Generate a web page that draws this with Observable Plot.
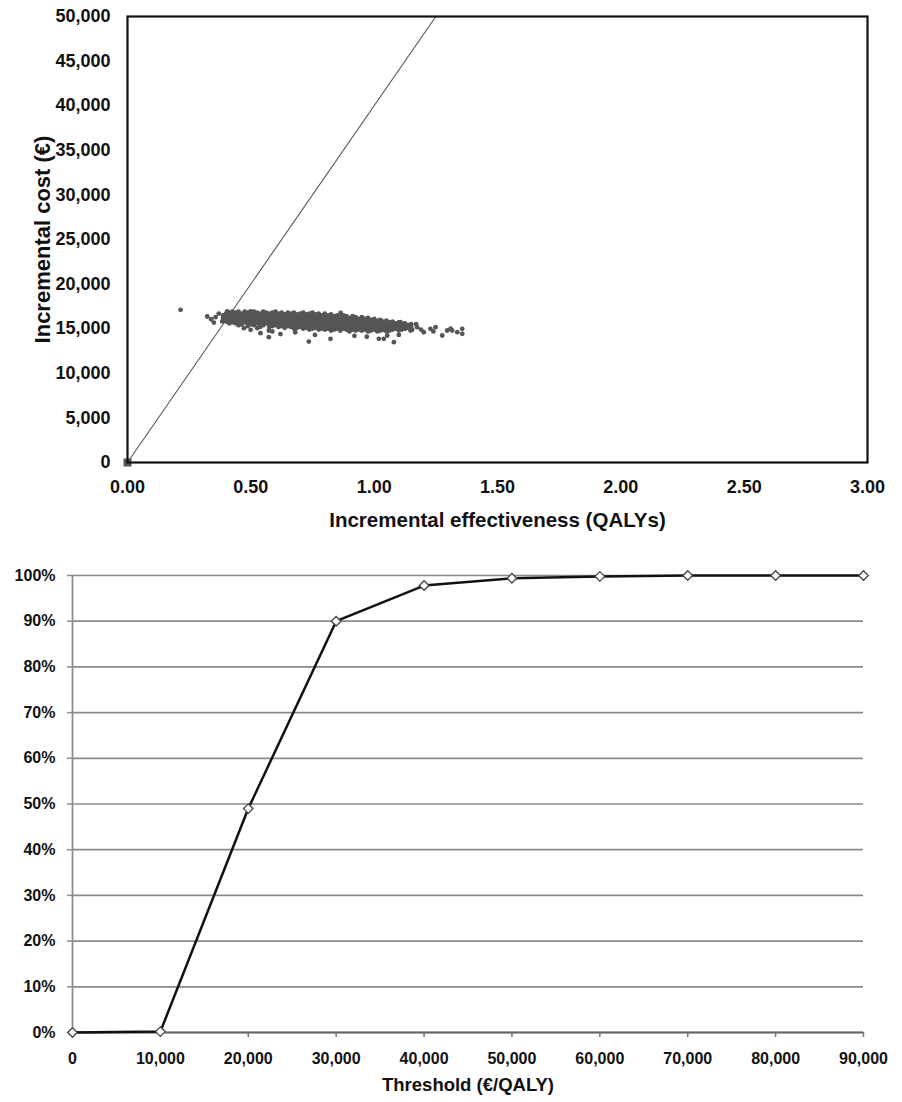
<!DOCTYPE html>
<html>
<head>
<meta charset="utf-8">
<script src="https://cdn.jsdelivr.net/npm/d3@7"></script>
<script src="https://cdn.jsdelivr.net/npm/@observablehq/plot@0.6"></script>
<style>
  html, body { margin: 0; padding: 0; background: #fff; }
  #chart svg { display: block; }
</style>
</head>
<body>
<div id="chart"></div>
<script>
// ---------- Panel A: cost-effectiveness plane ----------
const effTicks = [0, 0.5, 1.0, 1.5, 2.0, 2.5, 3.0];
const costTicks = [0, 5000, 10000, 15000, 20000, 25000, 30000, 35000, 40000, 45000, 50000];

// willingness-to-pay line (through origin)
const wtpEff = [0, 1.25];
const wtpCost = [0, 50000];

// origin marker
const originEff = [0];
const originCost = [0];

// dense core of simulations: column effectiveness and the costs read in each column
const coreEff = [0.3875, 0.400, 0.4125, 0.425, 0.4375, 0.450, 0.4625, 0.475, 0.4875, 0.500,
  0.5125, 0.525, 0.5375, 0.550, 0.5625, 0.575, 0.5875, 0.600, 0.6125, 0.625,
  0.6375, 0.650, 0.6625, 0.675, 0.6875, 0.700, 0.7125, 0.725, 0.7375, 0.750,
  0.7625, 0.775, 0.7875, 0.800, 0.8125, 0.825, 0.8375, 0.850, 0.8625, 0.875,
  0.8875, 0.900, 0.9125, 0.925, 0.9375, 0.950, 0.9625, 0.975, 0.9875, 1.000,
  1.0125, 1.025, 1.0375, 1.050, 1.0625, 1.075, 1.0875, 1.100, 1.1125, 1.125,
  1.1375, 1.150];
const coreCost = [
  [16500, 16200, 15900],
  [16700, 16400, 16100, 15800],
  [16800, 16500, 16200, 15900, 15600],
  [16900, 16600, 16300, 16000, 15700],
  [16800, 16500, 16200, 15900, 15600],
  [16900, 16600, 16300, 16000, 15700, 15400],
  [16700, 16400, 16100, 15800, 15500],
  [16900, 16600, 16300, 16000, 15700],
  [16800, 16500, 16200, 15900, 15600, 15300],
  [16700, 16400, 16100, 15800, 15500],
  [16900, 16600, 16300, 16000, 15700, 15400],
  [16800, 16500, 16200, 15900, 15600],
  [16700, 16400, 16100, 15800, 15500, 15200],
  [16900, 16600, 16300, 16000, 15700, 15400],
  [16800, 16500, 16200, 15900, 15600],
  [16700, 16400, 16100, 15800, 15500, 15200],
  [16800, 16500, 16200, 15900, 15600, 15300],
  [16900, 16600, 16300, 16000, 15700, 15400],
  [16700, 16400, 16100, 15800, 15500, 15200],
  [16800, 16500, 16200, 15900, 15600, 15300],
  [16600, 16300, 16000, 15700, 15400, 15100],
  [16800, 16500, 16200, 15900, 15600, 15300],
  [16700, 16400, 16100, 15800, 15500, 15200],
  [16800, 16500, 16200, 15900, 15600, 15300, 15000],
  [16600, 16300, 16000, 15700, 15400, 15100],
  [16700, 16400, 16100, 15800, 15500, 15200],
  [16800, 16500, 16200, 15900, 15600, 15300, 15000],
  [16600, 16300, 16000, 15700, 15400, 15100],
  [16700, 16400, 16100, 15800, 15500, 15200, 14900],
  [16800, 16500, 16200, 15900, 15600, 15300, 15000],
  [16600, 16300, 16000, 15700, 15400, 15100],
  [16700, 16400, 16100, 15800, 15500, 15200, 14900],
  [16500, 16200, 15900, 15600, 15300, 15000],
  [16700, 16400, 16100, 15800, 15500, 15200, 14900],
  [16500, 16200, 15900, 15600, 15300, 15000],
  [16600, 16300, 16000, 15700, 15400, 15100, 14800],
  [16400, 16100, 15800, 15500, 15200, 14900],
  [16500, 16200, 15900, 15600, 15300, 15000],
  [16300, 16000, 15700, 15400, 15100, 14800],
  [16500, 16200, 15900, 15600, 15300, 15000],
  [16400, 16100, 15800, 15500, 15200, 14900],
  [16200, 15900, 15600, 15300, 15000, 14700],
  [16400, 16100, 15800, 15500, 15200, 14900],
  [16300, 16000, 15700, 15400, 15100, 14800],
  [16100, 15800, 15500, 15200, 14900],
  [16300, 16000, 15700, 15400, 15100, 14800],
  [16100, 15800, 15500, 15200, 14900],
  [16200, 15900, 15600, 15300, 15000, 14700],
  [16000, 15700, 15400, 15100, 14800],
  [16100, 15800, 15500, 15200, 14900],
  [15900, 15600, 15300, 15000, 14700],
  [16000, 15700, 15400, 15100, 14800],
  [15800, 15500, 15200, 14900],
  [15900, 15600, 15300, 15000, 14700],
  [15700, 15400, 15100, 14800],
  [15800, 15500, 15200, 14900],
  [15600, 15300, 15000],
  [15700, 15400, 15100, 14800],
  [15500, 15200, 14900],
  [15600, 15300, 15000],
  [15400, 15100],
  [15500, 15200]
];

// scattered simulations around the core
const sparseEff = [0.215, 0.323, 0.339, 0.350, 0.357, 0.370, 0.384, 0.404, 0.451, 0.472,
  0.499, 0.526, 0.539, 0.587, 0.499, 0.573, 0.573, 0.735, 0.823, 0.864,
  1.019, 1.080, 1.107, 1.134, 1.147, 1.174, 1.201, 1.228, 1.249, 1.276,
  1.296, 1.316, 1.337, 1.357, 1.357, 1.053, 1.039, 1.033, 1.127, 1.154,
  0.62, 0.68, 0.76, 0.92, 0.97, 1.10, 1.17, 1.19, 1.24, 1.31];
const sparseCost = [17120, 16370, 16060, 15690, 16290, 16700, 15810, 16930, 15440, 15060,
  14870, 15060, 14500, 14690, 16930, 14800, 14050, 13560, 13870, 16780,
  13870, 13490, 15730, 15360, 14800, 15170, 14610, 14990, 15170, 14240,
  14800, 14800, 14610, 14990, 14430, 14240, 13870, 14870, 15060, 14870,
  14400, 14600, 14300, 14200, 14100, 14300, 15500, 14900, 14700, 15000];

// ---------- Panel B: acceptability curve ----------
const thresholds = [0, 10000, 20000, 30000, 40000, 50000, 60000, 70000, 80000, 90000];
const probAccept = [0, 0.002, 0.49, 0.90, 0.978, 0.994, 0.998, 1.0, 1.0, 1.0];
const probTicks = [0, 0.1, 0.2, 0.3, 0.4, 0.5, 0.6, 0.7, 0.8, 0.9, 1.0];

// ---------- build tables ----------
const cloud = coreEff.flatMap((e, i) => coreCost[i].map(c => ({eff: e, cost: c})))
  .concat(sparseEff.map((e, i) => ({eff: e, cost: sparseCost[i]})));
const wtp = wtpEff.map((e, i) => ({eff: e, cost: wtpCost[i]}));
const origin = originEff.map((e, i) => ({eff: e, cost: originCost[i]}));
const ceac = thresholds.map((t, i) => ({t, p: probAccept[i]}));

const font = "'Liberation Sans', Arial, Helvetica, sans-serif";

const planeChart = Plot.plot({
  width: 902,
  height: 540,
  marginTop: 16,
  marginLeft: 127,
  marginRight: 35,
  marginBottom: 78,
  style: {fontFamily: font, fontWeight: "bold", color: "#111", background: "#fff"},
  x: {domain: [0, 3]},
  y: {domain: [0, 50000]},
  marks: [
    Plot.axisY({ticks: costTicks, tickFormat: d3.format(","), tickSize: 0, tickPadding: 17,
      fontSize: 18, fontWeight: "bold", fontFamily: font, label: null}),
    Plot.axisY({ticks: [], label: "Incremental cost (€)", labelAnchor: "center", labelOffset: 93,
      labelArrow: "none", fontSize: 22, fontWeight: "bold", fontFamily: font, dy: 13}),
    Plot.axisX({ticks: effTicks, tickFormat: d3.format(".2f"), tickSize: 0, tickPadding: 18,
      fontSize: 18, fontWeight: "bold", fontFamily: font, label: null}),
    Plot.axisX({ticks: [], label: "Incremental effectiveness (QALYs)", labelAnchor: "center",
      labelOffset: 64, labelArrow: "none", fontSize: 20.5, fontWeight: "bold", fontFamily: font, dx: 18}),
    Plot.dot(cloud, {x: "eff", y: "cost", r: 2.4, fill: "#555", stroke: "none"}),
    Plot.line(wtp, {x: "eff", y: "cost", stroke: "#555", strokeWidth: 1.1}),
    Plot.dot(origin, {x: "eff", y: "cost", symbol: "square", r: 4.5, fill: "#555"}),
    Plot.frame({stroke: "#111", strokeWidth: 2.2})
  ]
});

const ceacChart = Plot.plot({
  width: 902,
  height: 562,
  marginTop: 35,
  marginLeft: 72,
  marginRight: 39,
  marginBottom: 70,
  style: {fontFamily: font, fontWeight: "bold", color: "#111", background: "#fff"},
  x: {domain: [0, 90000]},
  y: {domain: [0, 1]},
  marks: [
    Plot.gridY(probTicks, {stroke: "#8a8a8a", strokeOpacity: 1, strokeWidth: 1.7}),
    Plot.axisY({ticks: probTicks, tickFormat: d3.format(".0%"), tickSize: 5, tickPadding: 12,
      stroke: "#8a8a8a", strokeWidth: 1.5, fontSize: 16, fontWeight: "bold", fontFamily: font, label: null}),
    Plot.axisX({ticks: thresholds, tickFormat: d3.format(","), tickSize: 5, tickPadding: 15,
      stroke: "#777", strokeWidth: 1.5, fontSize: 16, fontWeight: "bold", fontFamily: font, label: null}),
    Plot.axisX({ticks: [], label: "Threshold (€/QALY)", labelAnchor: "center", labelOffset: 58,
      labelArrow: "none", fontSize: 18.5, fontWeight: "bold", fontFamily: font}),
    Plot.ruleX([0], {stroke: "#8a8a8a", strokeWidth: 1.7}),
    Plot.ruleY([0], {stroke: "#666", strokeWidth: 2}),
    Plot.line(ceac, {x: "t", y: "p", stroke: "#111", strokeWidth: 2.5}),
    Plot.dot(ceac, {x: "t", y: "p", symbol: "diamond2", r: 4.3, fill: "#fff", stroke: "#444", strokeWidth: 1.3})
  ]
});

document.getElementById("chart").append(planeChart, ceacChart);
</script>
</body>
</html>
